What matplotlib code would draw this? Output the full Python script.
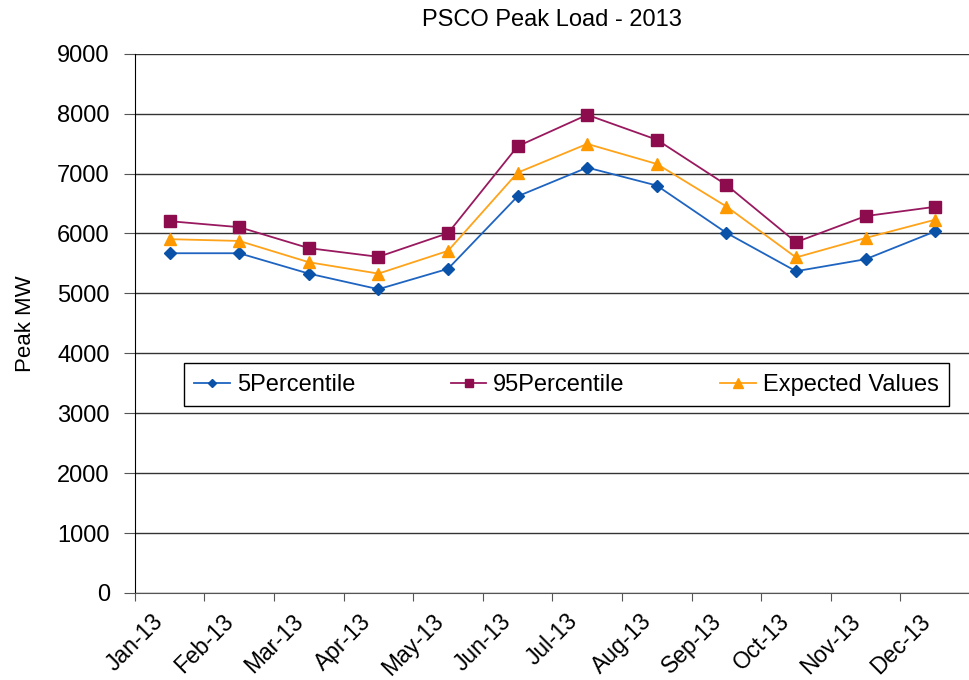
import numpy as np
import matplotlib
matplotlib.use('Agg')
import matplotlib.pyplot as plt
import matplotlib.transforms as mtransforms

plt.rcParams['font.family'] = ['Liberation Sans', 'DejaVu Sans']

months = ['Jan-13', 'Feb-13', 'Mar-13', 'Apr-13', 'May-13', 'Jun-13',
          'Jul-13', 'Aug-13', 'Sep-13', 'Oct-13', 'Nov-13', 'Dec-13']
p5 = [5670, 5670, 5330, 5070, 5410, 6620, 7100, 6800, 6010, 5370, 5570, 6035]
p95 = [6205, 6105, 5755, 5610, 6005, 7455, 7980, 7565, 6810, 5855, 6290, 6445]
expected = [5905, 5875, 5520, 5330, 5710, 7015, 7495, 7160, 6450, 5600, 5925, 6230]

fig = plt.figure(figsize=(9.7, 6.8), dpi=100)
ax = fig.add_axes([0.139, 0.128, 0.861, 0.793])

x = np.arange(len(months)) + 0.5
ax.plot(x, p5, color='#1E64C0', lw=1.3, marker='D', ms=6,
        mfc='#0A52A8', mec='#0A52A8', label='5Percentile')
ax.plot(x, p95, color='#99195F', lw=1.3, marker='s', ms=8,
        mfc='#8C0C4E', mec='#8C0C4E', label='95Percentile')
ax.plot(x, expected, color='#FFA31A', lw=1.3, marker='^', ms=9,
        mfc='#FF9900', mec='#FF9900', label='Expected Values')

ax.set_xlim(0, 12)
ax.set_ylim(0, 9000)
ax.set_yticks(np.arange(0, 9001, 1000))
ax.set_xticks(np.arange(len(months)))
ax.set_xticklabels(months, rotation=45, ha='center', fontsize=16.5)
# nudge the rotated month labels a little to the left of their ticks
shift = mtransforms.ScaledTranslation(-6 / 100, 0, fig.dpi_scale_trans)
for lbl in ax.get_xticklabels():
    lbl.set_transform(lbl.get_transform() + shift)
ax.tick_params(axis='x', length=6, pad=6, color='#555555')
ax.tick_params(axis='y', length=8, pad=10, labelsize=17, color='#555555')

ax.grid(axis='y', color='#333333', lw=1)
ax.set_axisbelow(True)
for side in ['top', 'right']:
    ax.spines[side].set_visible(False)
ax.spines['left'].set_color('black')
ax.spines['bottom'].set_color('#555555')

ax.set_title('PSCO Peak Load - 2013', fontsize=17, pad=20)
ax.set_ylabel('Peak MW', fontsize=16, labelpad=15)

leg = ax.legend(loc='center', bbox_to_anchor=(0.517, 0.386), ncol=3,
                fontsize=17, frameon=True, fancybox=False, framealpha=1,
                edgecolor='black', handlelength=1.5, columnspacing=4.05,
                handletextpad=0.3, borderpad=0.45, borderaxespad=0,
                markerscale=0.75)
leg.get_frame().set_linewidth(1)

fig.savefig('out.png', dpi=100)
